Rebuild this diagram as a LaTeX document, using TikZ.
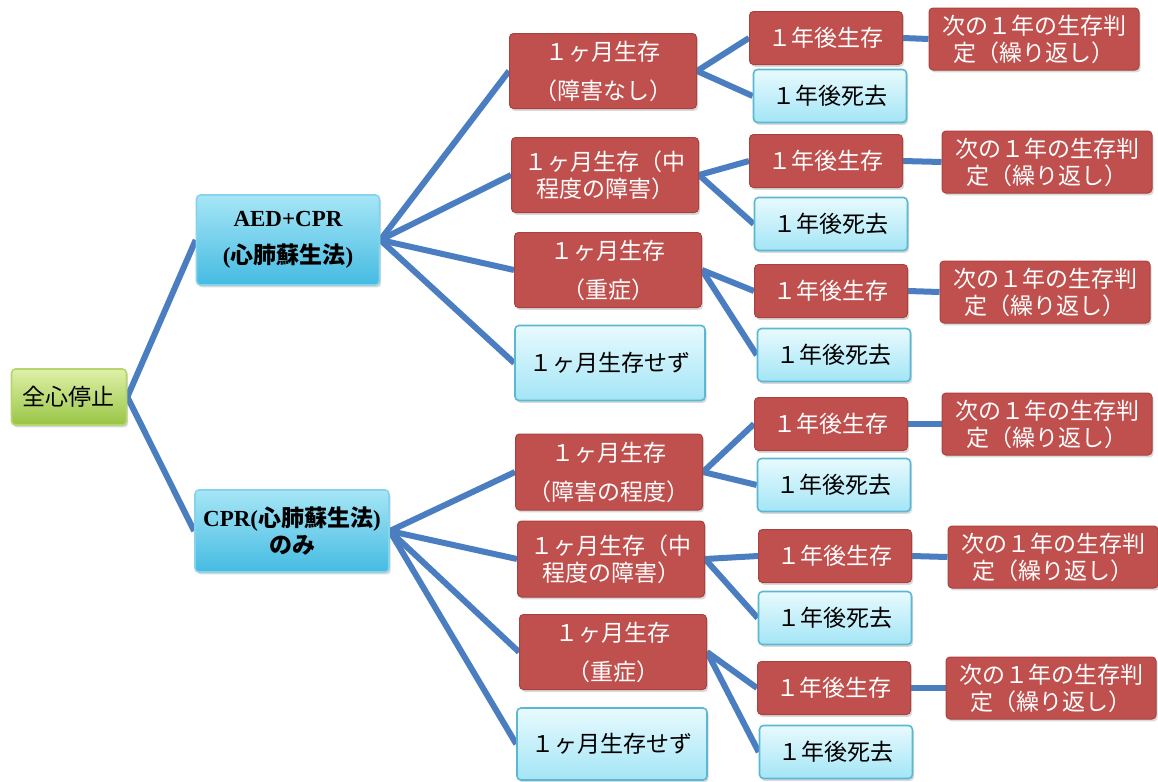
\documentclass[tikz,border=0pt]{standalone}
\usepackage{fontspec}
\newfontfamily\jp{Noto Sans CJK JP}
\newfontfamily\lat{Liberation Serif}
\usetikzlibrary{shadows}
\pgfdeclarelayer{bg}
\pgfsetlayers{bg,main}
\definecolor{boxred}{HTML}{C0504D}
\definecolor{boxredline}{HTML}{A9423F}
\definecolor{linkblue}{HTML}{4A7EC0}
\definecolor{ltop}{HTML}{E8FAFE}
\definecolor{lbot}{HTML}{A3E5F6}
\definecolor{lline}{HTML}{5BB8D2}
\definecolor{ctop}{HTML}{A6E6F6}
\definecolor{cbot}{HTML}{45BBE2}
\definecolor{cline}{HTML}{86D3EC}
\definecolor{gtop}{HTML}{E0F0A8}
\definecolor{gbot}{HTML}{98C545}
\definecolor{gline}{HTML}{B5D56E}
\begin{document}
\begin{tikzpicture}[x=0.5pt,y=-0.5pt,
  base/.style={rounded corners=2pt, align=center, inner sep=1pt,
    font=\jp\fontsize{11.5}{13.5}\selectfont,
    drop shadow={shadow xshift=0.8pt, shadow yshift=-1.2pt, opacity=0.3}},
  redbox/.style={base, fill=boxred, draw=boxredline, line width=0.5pt, text=white},
  bluebox/.style={base, top color=ltop, bottom color=lbot, draw=lline, line width=0.8pt, text=black},
  cyanbox/.style={base, top color=ctop, bottom color=cbot, draw=cline, line width=0.8pt, text=black,
    font=\jp\bfseries\fontsize{11.5}{13.5}\selectfont},
  greenbox/.style={base, top color=gtop, bottom color=gbot, draw=gline, line width=0.8pt, text=black},
  lvtwo/.style={minimum width=93.5pt, minimum height=37.5pt},
  lvthree/.style={minimum width=76.5pt, minimum height=26.5pt},
  lvfour/.style={minimum width=105pt, minimum height=31pt},
  conn/.style={draw=linkblue, line width=3pt}
]
\useasboundingbox (0,0) rectangle (1158,782);

% root
\node[greenbox, minimum width=57.5pt, minimum height=28pt] (root) at (69,397) {全心停止};
\node[cyanbox, minimum width=91.5pt, minimum height=45pt] (aed) at (288,240)
  {{\lat\bfseries AED+CPR}\\[5pt]{\lat\bfseries (}心肺蘇生法{\lat\bfseries )}};
\node[cyanbox, minimum width=97pt, minimum height=41pt] (cpr) at (292,531)
  {{\lat\bfseries CPR(}心肺蘇生法{\lat\bfseries )}\\のみ};

% level 2, AED
\node[redbox, lvtwo] (a1) at (603,71) {１ヶ月生存\\[6pt]（障害なし）};
\node[redbox, lvtwo] (a2) at (605,175) {１ヶ月生存（中\\程度の障害）};
\node[redbox, lvtwo] (a3) at (608,270) {１ヶ月生存\\[6pt]（重症）};
\node[bluebox, lvtwo, minimum width=95pt] (a4) at (610,363) {１ヶ月生存せず};
% level 2, CPR
\node[redbox, lvtwo, minimum height=38pt] (b1) at (609,472) {１ヶ月生存\\[6pt]（障害の程度）};
\node[redbox, lvtwo, minimum height=38pt] (b2) at (611,559) {１ヶ月生存（中\\程度の障害）};
\node[redbox, lvtwo] (b3) at (613,652) {１ヶ月生存\\[6pt]（重症）};
\node[bluebox, lvtwo, minimum width=95pt, minimum height=36pt] (b4) at (612,744) {１ヶ月生存せず};

% level 3
\node[redbox, lvthree] (a1s) at (826,38) {１年後生存};
\node[bluebox, lvthree] (a1d) at (830,96) {１年後死去};
\node[redbox, lvthree] (a2s) at (826,161) {１年後生存};
\node[bluebox, lvthree] (a2d) at (831,224) {１年後死去};
\node[redbox, lvthree] (a3s) at (831,291) {１年後生存};
\node[bluebox, lvthree] (a3d) at (834,355) {１年後死去};
\node[redbox, lvthree] (b1s) at (831,424) {１年後生存};
\node[bluebox, lvthree] (b1d) at (834,485) {１年後死去};
\node[redbox, lvthree] (b2s) at (835,556) {１年後生存};
\node[bluebox, lvthree] (b2d) at (835,618) {１年後死去};
\node[redbox, lvthree] (b3s) at (834,688) {１年後生存};
\node[bluebox, lvthree] (b3d) at (836,752) {１年後死去};

% level 4
\node[redbox, lvfour] (a1n) at (1034,39) {次の１年の生存判\\定（繰り返し）};
\node[redbox, lvfour] (a2n) at (1047,162) {次の１年の生存判\\定（繰り返し）};
\node[redbox, lvfour] (a3n) at (1045,292) {次の１年の生存判\\定（繰り返し）};
\node[redbox, lvfour] (b1n) at (1047,424) {次の１年の生存判\\定（繰り返し）};
\node[redbox, lvfour] (b2n) at (1053,557) {次の１年の生存判\\定（繰り返し）};
\node[redbox, lvfour] (b3n) at (1051,688) {次の１年の生存判\\定（繰り返し）};

\begin{pgfonlayer}{bg}
  \foreach \p/\c in {root/aed, root/cpr,
      aed/a1, aed/a2, aed/a3, aed/a4,
      cpr/b1, cpr/b2, cpr/b3, cpr/b4,
      a1/a1s, a1/a1d, a2/a2s, a2/a2d, a3/a3s, a3/a3d,
      b1/b1s, b1/b1d, b2/b2s, b2/b2d, b3/b3s, b3/b3d,
      a1s/a1n, a2s/a2n, a3s/a3n, b1s/b1n, b2s/b2n, b3s/b3n}
    \draw[conn] (\p.east) -- (\c.west);
\end{pgfonlayer}
\end{tikzpicture}
\end{document}
